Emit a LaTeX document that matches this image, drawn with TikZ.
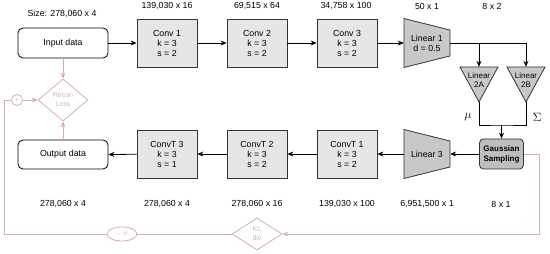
\documentclass[tikz,border=0pt]{standalone}
\usepackage{fontspec}
\setmainfont{Liberation Sans}
\usetikzlibrary{arrows.meta,shapes.geometric,calc}
\definecolor{convfill}{RGB}{230,230,230}
\definecolor{linfill}{RGB}{200,200,200}
\definecolor{gaussfill}{RGB}{190,190,190}
\definecolor{pinkc}{RGB}{212,170,196}
\definecolor{ghost}{RGB}{185,185,185}
\begin{document}
\begin{tikzpicture}[x=1pt,y=-1pt,
  lbl/.style={font=\fontsize{8.8}{10}\selectfont, inner sep=0},
  conv/.style={draw=black!80, fill=convfill, line width=0.8pt, minimum width=60, minimum height=48, align=center, font=\fontsize{8.8}{10}\selectfont, inner sep=0},
  io/.style={draw=black, fill=white, rounded corners=5, line width=0.8pt, minimum width=90, minimum height=30, font=\fontsize{8.8}{10}\selectfont, inner sep=0},
  linshape/.style={draw=black!80, fill=linfill, line width=0.8pt},
  lintext/.style={align=center, font=\fontsize{8.8}{10}\selectfont, inner sep=0},
  tritext/.style={align=center, font=\fontsize{8}{9.5}\selectfont, inner sep=0},
  gss/.style={draw=black!80, fill=gaussfill, rounded corners=4, line width=0.8pt, minimum width=44, minimum height=30, align=center, font=\bfseries\fontsize{8}{10}\selectfont, inner sep=0},
  arr/.style={line width=0.8pt, -{Stealth[length=6pt,width=5pt]}},
  plain/.style={line width=0.8pt},
  pinkdiam/.style={diamond, draw=pinkc, line width=0.8pt, text=ghost, align=center, font=\fontsize{7}{9}\selectfont, inner sep=0},
  pinkline/.style={draw=pinkc, line width=0.8pt},
  pinkarr/.style={draw=pinkc, line width=0.8pt, -{Stealth[length=6pt,width=5pt]}},
]
\useasboundingbox (0,0) rectangle (550,254);

% top labels
\node[lbl] (sz0) at (62,14) {Size: 278,060 x 4};
\node[lbl] (sz1) at (167,6) {139,030 x 16};
\node[lbl] (sz2) at (257,6) {69,515 x 64};
\node[lbl] (sz3) at (346,6) {34,758 x 100};
\node[lbl] (sz4) at (427,6) {50 x 1};
\node[lbl] (sz5) at (492,6) {8 x 2};

% bottom labels
\node[lbl] (bz0) at (63,204) {278,060 x 4};
\node[lbl] (bz1) at (167,204) {278,060 x 4};
\node[lbl] (bz2) at (257,204) {278,060 x 16};
\node[lbl] (bz3) at (347,204) {139,030 x 100};
\node[lbl] (bz4) at (427,204) {6,951,500 x 1};
\node[lbl] (bz5) at (501,204) {8 x 1};

% encoder
\node[io] (input) at (63,43) {Input data};
\node[conv] (conv1) at (167,43) {Conv 1\\k = 3\\s = 2};
\node[conv] (conv2) at (257,43) {Conv 2\\k = 3\\s = 2};
\node[conv] (conv3) at (347,43) {Conv 3\\k = 3\\s = 2};
\draw[linshape] (404,18.5) -- (450,30) -- (450,56) -- (404,67.5) -- cycle;
\node[lintext, minimum width=46, minimum height=26] (lin1) at (427,43) {Linear 1\\d = 0.5};

% linear 2A / 2B
\draw[linshape] (460,67) -- (498,67) -- (479,102) -- cycle;
\draw[linshape] (507,67) -- (545,67) -- (526,102) -- cycle;
\node[minimum width=38, minimum height=35, inner sep=0] (l2a) at (479,84.5) {};
\node[minimum width=38, minimum height=35, inner sep=0] (l2b) at (526,84.5) {};
\node[tritext] (l2at) at (479,80) {Linear\\2A};
\node[tritext] (l2bt) at (526,80) {Linear\\2B};
\node[inner sep=0, font=\large] (mu) at (468,117) {$\mu$};
\node[inner sep=0, font=\large] (sig) at (537,117) {$\Sigma$};

% decoder
\node[gss] (gauss) at (501.5,154) {Gaussian\\Sampling};
\draw[linshape] (404,129.5) -- (450,141) -- (450,167) -- (404,178.5) -- cycle;
\node[lintext, minimum width=46, minimum height=26] (lin3) at (427,154) {Linear 3};
\node[conv] (convt1) at (347,154) {ConvT 1\\k = 3\\s = 2};
\node[conv] (convt2) at (257,154) {ConvT 2\\k = 3\\s = 2};
\node[conv] (convt3) at (167,154) {ConvT 3\\k = 3\\s = 1};
\node[io, minimum height=29] (output) at (63,154.5) {Output data};

% black connectors
\draw[arr] (input) -- (conv1);
\draw[arr] (conv1) -- (conv2);
\draw[arr] (conv2) -- (conv3);
\draw[arr] (conv3) -- (lin1);
\draw[arr] (lin1.east) -| (l2b.north);
\draw[arr] (lin1.east -| l2a.north) -- (l2a.north);
\coordinate (mj) at (501.5,125);
\draw[plain] (l2a.south) |- (mj) -| (l2b.south);
\draw[arr] (mj) -- (gauss.north);
\draw[arr] (gauss) -- (lin3);
\draw[arr] (lin3) -- (convt1);
\draw[arr] (convt1) -- (convt2);
\draw[arr] (convt2) -- (convt3);
\draw[arr] (convt3) -- (output.east);

% loss part
\node[pinkdiam, minimum width=50, minimum height=42] (recon) at (63,100) {Recon\\Loss};
\node[circle, draw=pinkc, line width=0.8pt, minimum size=11, inner sep=0, text=ghost, font=\fontsize{7}{8}\selectfont] (plus) at (17,100) {+};
\node[pinkdiam, minimum width=50, minimum height=32] (kl) at (257,234) {KL\\div};
\node[ellipse, draw=pinkc, line width=0.8pt, minimum width=30, minimum height=14, inner sep=0, text=ghost, font=\fontsize{7}{8}\selectfont] (beta) at (122,234) {$-\beta$};

\draw[pinkarr] (input) -- (recon);
\draw[pinkarr] (output) -- (recon);
\draw[pinkarr] (plus) -- (recon);
\draw[pinkarr] (gauss.east) -- ++(15,0) |- (kl.east);
\draw[pinkline] (kl.west) -- (beta.east);
\draw[pinkline] (beta.west) -| ($(plus.west)+(-7,0)$) -- (plus.west);
\end{tikzpicture}
\end{document}
